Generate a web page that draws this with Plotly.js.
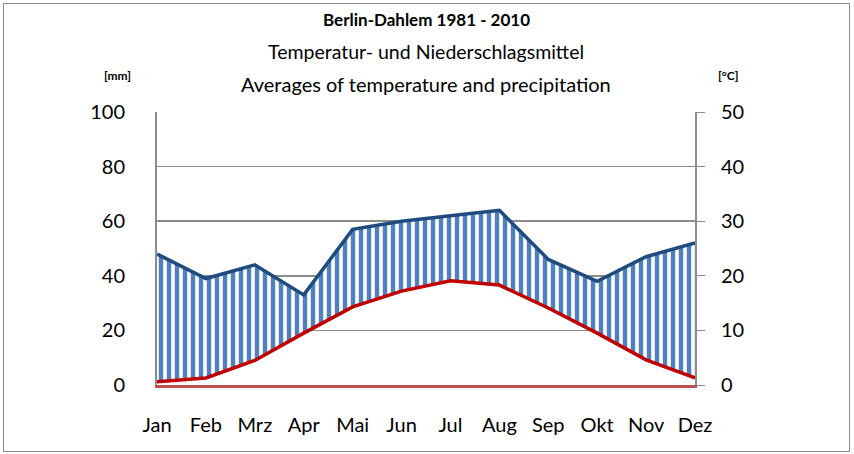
<!DOCTYPE html>
<html><head><meta charset="utf-8">
<script src="https://cdn.plot.ly/plotly-3.0.1.min.js"></script>
<style>
body{margin:0;padding:0;background:#fff;}
#wrap{position:relative;width:854px;height:454px;}
#chart{width:854px;height:454px;}
#frame{position:absolute;left:3px;top:3px;width:845px;height:447px;border:1px solid #8c8c8c;pointer-events:none;}
</style></head>
<body>
<div id="wrap"><div id="chart"></div><div id="frame"></div></div>
<script>
const months = ["Jan","Feb","Mrz","Apr","Mai","Jun","Jul","Aug","Sep","Okt","Nov","Dez"];
const precipitation = [48, 39, 44, 33, 57, 60, 62, 64, 46, 38, 47, 52];
const temperature = [0.6, 1.3, 4.5, 9.5, 14.3, 17.2, 19.1, 18.3, 14.1, 9.5, 4.6, 1.3];
const yTicksMm = [0, 20, 40, 60, 80, 100];
const yTicksC = [0, 10, 20, 30, 40, 50];

// Walter-Lieth convention: 10 °C corresponds to 20 mm
const tempAsMm = temperature.map(t => t * 2);
const font = "Lato, 'Open Sans', sans-serif";

const traces = [
  {x: months, y: tempAsMm, type: 'scatter', mode: 'lines', line: {width: 0, color: 'rgba(0,0,0,0)'},
   hoverinfo: 'skip', showlegend: false, xaxis: 'x', yaxis: 'y'},
  {x: months, y: precipitation, type: 'scatter', mode: 'lines', fill: 'tonexty',
   fillcolor: 'rgba(0,0,0,0)',
   fillpattern: {shape: '|', size: 8, solidity: 0.55, fgcolor: '#4f81bd', bgcolor: '#ffffff', fgopacity: 1},
   line: {width: 0, color: 'rgba(0,0,0,0)'}, showlegend: false, yaxis: 'y'},
  {x: months, y: temperature, type: 'scatter', mode: 'lines', line: {color: '#c00000', width: 3.5},
   showlegend: false, yaxis: 'y2'},
  {x: months, y: precipitation, type: 'scatter', mode: 'lines', line: {color: '#1f4b80', width: 3.5},
   showlegend: false, yaxis: 'y'}
];

const layout = {
  width: 854, height: 454,
  margin: {l: 157, r: 159, t: 112, b: 69},
  paper_bgcolor: '#ffffff', plot_bgcolor: '#ffffff',
  font: {family: font, color: '#000'},
  showlegend: false,
  xaxis: {type: 'category', range: [0, 11], showgrid: false, showline: true, linecolor: '#c0504d', linewidth: 2.5,
          ticks: '', tickfont: {size: 20, family: font}, ticklabelstandoff: 20, zeroline: false, fixedrange: true},
  yaxis: {range: [0, 100], tickvals: yTicksMm, ticktext: yTicksMm.map(String), showgrid: true, gridcolor: '#8c8c8c', gridwidth: 1.5,
          showline: true, linecolor: '#8c8c8c', linewidth: 2, ticks: '', ticklabelstandoff: 26,
          tickfont: {size: 20, family: font}, zeroline: false},
  yaxis2: {range: [0, 50], tickvals: yTicksC, ticktext: yTicksC.map(String), overlaying: 'y', side: 'right', showgrid: false,
           showline: true, linecolor: '#8c8c8c', linewidth: 2, ticks: 'outside', ticklen: 8, tickcolor: '#8c8c8c',
           ticklabelstandoff: 12,
           tickfont: {size: 20, family: font}, zeroline: false},
  annotations: [
    {text: '<b>Berlin-Dahlem 1981 - 2010</b>', xref: 'paper', yref: 'paper', x: 0.5, y: 1, yshift: 93, xanchor: 'center', yanchor: 'middle', showarrow: false, font: {size: 17, family: font}},
    {text: 'Temperatur- und Niederschlagsmittel', xref: 'paper', yref: 'paper', x: 0.5, y: 1, yshift: 61, xanchor: 'center', yanchor: 'middle', showarrow: false, font: {size: 19.5, family: font}},
    {text: 'Averages of temperature and precipitation', xref: 'paper', yref: 'paper', x: 0.5, y: 1, yshift: 28, xanchor: 'center', yanchor: 'middle', showarrow: false, font: {size: 20, family: font}},
    {text: '<b>[mm]</b>', xref: 'paper', yref: 'paper', x: 0, y: 1, xshift: -40, yshift: 37, xanchor: 'center', yanchor: 'middle', showarrow: false, font: {size: 12, family: font}},
    {text: '<b>[°C]</b>', xref: 'paper', yref: 'paper', x: 1, y: 1, xshift: 33, yshift: 37, xanchor: 'center', yanchor: 'middle', showarrow: false, font: {size: 12, family: font}}
  ]
};

Plotly.newPlot('chart', traces, layout, {staticPlot: true});
</script>
</body></html>
